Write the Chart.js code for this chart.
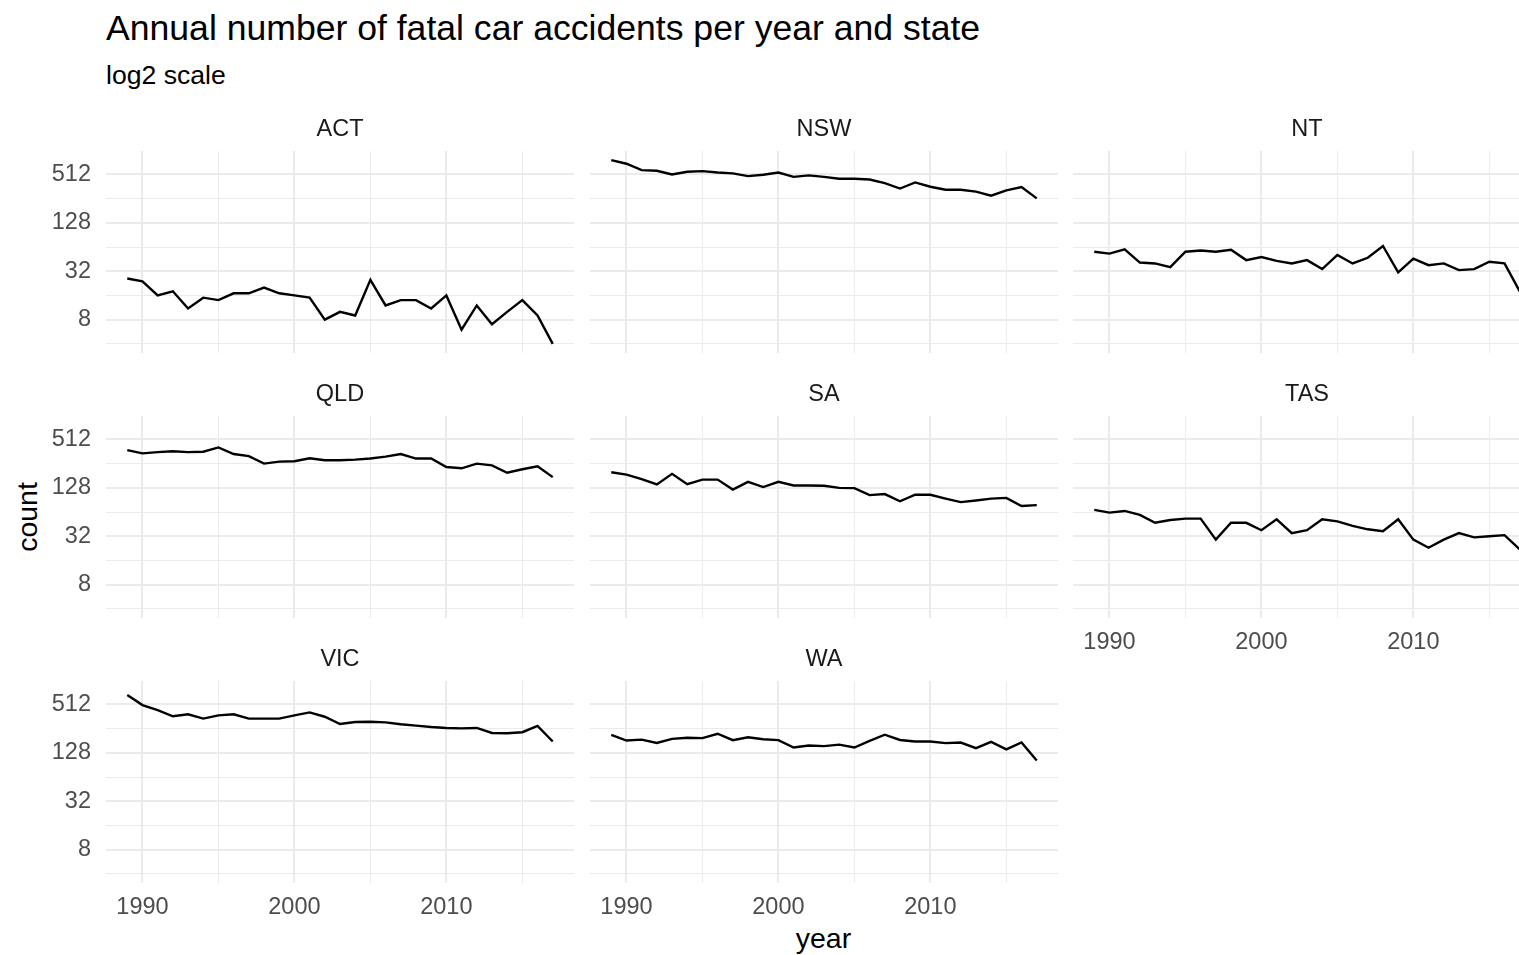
<!DOCTYPE html>
<html>
<head>
<meta charset="utf-8">
<title>Annual number of fatal car accidents per year and state</title>
<script src="https://cdn.jsdelivr.net/npm/chart.js@4.4.1/dist/chart.umd.min.js"></script>
<style>
  html, body { margin: 0; padding: 0; background: #fff; }
  #page { position: relative; width: 1519px; height: 955px; overflow: hidden;
          font-family: 'Liberation Sans', Arial, Helvetica, sans-serif; }
  #page canvas { position: absolute; }
  .txt { position: absolute; line-height: 1; white-space: nowrap; color: #000; }
</style>
</head>
<body>
<div id="page">
  <div class="txt" style="left:106px; top:29px; font-size:35.6px; transform:translateY(-50%);">Annual number of fatal car accidents per year and state</div>
  <div class="txt" style="left:106px; top:75px; font-size:26.6px; transform:translateY(-50%);">log2 scale</div>
  <div class="txt" style="left:26.5px; top:517px; font-size:28.5px; transform:translate(-50%,-50%) rotate(-90deg);">count</div>
  <div class="txt" style="left:823.5px; top:937.5px; font-size:28.5px; transform:translate(-50%,-50%);">year</div>
</div>
<script>
// data
const years = [1989, 1990, 1991, 1992, 1993, 1994, 1995, 1996, 1997, 1998,
               1999, 2000, 2001, 2002, 2003, 2004, 2005, 2006, 2007, 2008,
               2009, 2010, 2011, 2012, 2013, 2014, 2015, 2016, 2017];

const actCounts = [26, 24, 16, 18, 11, 15, 14, 17, 17, 20, 17, 16, 15, 8, 10,
                   9, 25, 12, 14, 14, 11, 16, 6, 12, 7, 10, 14, 9, 4];
const nswCounts = [770, 695, 580, 569, 512, 552, 563, 541, 527, 488, 507, 541, 478, 498, 478,
                   452, 452, 443, 399, 342, 407, 360, 330, 330, 313, 278, 324, 357, 258];
const ntCounts  = [56, 53, 60, 41, 40, 36, 56, 58, 56, 59, 44, 48, 43, 40, 44,
                   34, 51, 40, 47, 66, 31, 46, 38, 40, 33, 34, 42, 40, 18];
const qldCounts = [377, 343, 356, 365, 356, 360, 407, 337, 318, 256, 271, 274, 298, 282, 282,
                   287, 296, 313, 337, 296, 296, 232, 224, 256, 244, 197, 218, 237, 174];
const saCounts  = [200, 187, 164, 141, 191, 142, 162, 162, 122, 152, 131, 152, 137, 137, 136,
                   128, 127, 104, 107, 87, 105, 105, 94, 85, 89, 94, 96, 76, 78];
const tasCounts = [68, 63, 66, 59, 47, 51, 53, 53, 29, 47, 47, 38, 52, 35, 38,
                   52, 49, 43, 39, 37, 52, 29, 23, 29, 35, 31, 32, 33, 22];
const vicCounts = [673, 502, 436, 365, 386, 341, 374, 386, 341, 341, 341, 374, 407, 360, 292,
                   309, 312, 306, 290, 279, 268, 261, 258, 261, 226, 224, 231, 276, 177];
const waCounts  = [214, 182, 187, 170, 191, 197, 195, 221, 184, 200, 189, 184, 149, 158, 155,
                   162, 149, 180, 215, 185, 177, 177, 169, 172, 146, 175, 141, 172, 103];

const states = ['ACT', 'NSW', 'NT', 'QLD', 'SA', 'TAS', 'VIC', 'WA'];
const stateCounts = [actCounts, nswCounts, ntCounts, qldCounts, saCounts, tasCounts, vicCounts, waCounts];

const yTickLabels = [8, 32, 128, 512];
const yMinorTicks = [4, 16, 64, 256];
const xTickLabels = [1990, 2000, 2010];
const xMinorTicks = [1995, 2005, 2015];

// facet layout (pixels)
const colLeft = [106, 590, 1073];
const rowTop = [151, 416, 681];
const panelW = 468, panelH = 202;
const yAxisW = 106, stripH = 40, xAxisH = 50;
const gridColor = '#EBEBEB';
const tickColor = '#4D4D4D';

Chart.defaults.font.family = "'Liberation Sans', Arial, Helvetica, sans-serif";

// shared scale limits, ggplot style 5% expansion
const logs = stateCounts.flat().map(Math.log2);
const lo = Math.min(...logs), hi = Math.max(...logs);
const yMin = 2 ** (lo - (hi - lo) * 0.05);
const yMax = 2 ** (hi + (hi - lo) * 0.05);
const xSpan = years[years.length - 1] - years[0];
const xMin = years[0] - xSpan * 0.05;
const xMax = years[years.length - 1] + xSpan * 0.05;

const yGrid = yMinorTicks.concat(yTickLabels).sort((a, b) => a - b);
const xGrid = xMinorTicks.concat(xTickLabels).sort((a, b) => a - b);

const page = document.getElementById('page');

states.forEach((name, i) => {
  const col = i % 3, row = Math.floor(i / 3);
  const showY = col === 0;
  const showX = name === 'TAS' || name === 'VIC' || name === 'WA';

  const cv = document.createElement('canvas');
  cv.width = yAxisW + panelW;
  cv.height = stripH + panelH + xAxisH;
  cv.style.left = (colLeft[col] - yAxisW) + 'px';
  cv.style.top = (rowTop[row] - stripH) + 'px';
  page.appendChild(cv);

  new Chart(cv, {
    type: 'line',
    data: {
      datasets: [{
        label: name,
        data: years.map((yr, j) => ({ x: yr, y: stateCounts[i][j] })),
        borderColor: '#000',
        borderWidth: 2.4,
        pointRadius: 0,
        tension: 0,
        fill: false,
      }],
    },
    options: {
      responsive: false,
      animation: false,
      layout: { padding: 0 },
      plugins: {
        legend: { display: false },
        tooltip: { enabled: false },
        title: {
          display: true,
          text: name,
          fullSize: false,
          color: '#1A1A1A',
          font: { size: 23.5, weight: 'normal', lineHeight: 1.2 },
          padding: { top: 4.4, bottom: 7.4 },
        },
      },
      scales: {
        x: {
          type: 'linear',
          min: xMin,
          max: xMax,
          afterBuildTicks: (s) => { s.ticks = xGrid.map((v) => ({ value: v })); },
          afterFit: (s) => { s.height = xAxisH; },
          ticks: {
            display: showX,
            autoSkip: false,
            maxRotation: 0,
            padding: 10.5,
            color: tickColor,
            font: { size: 23.5 },
            callback: (v) => (xTickLabels.includes(v) ? String(v) : ''),
          },
          grid: {
            color: gridColor,
            drawTicks: false,
            lineWidth: (c) => (xTickLabels.includes(c.tick.value) ? 2 : 1),
          },
          border: { display: false },
        },
        y: {
          type: 'logarithmic',
          min: yMin,
          max: yMax,
          afterBuildTicks: (s) => { s.ticks = yGrid.map((v) => ({ value: v })); },
          afterFit: (s) => { s.width = yAxisW; },
          ticks: {
            display: showY,
            autoSkip: false,
            padding: 15,
            color: tickColor,
            font: { size: 23.5 },
            callback: (v) => (yTickLabels.includes(v) ? String(v) : ''),
          },
          grid: {
            color: gridColor,
            drawTicks: false,
            lineWidth: (c) => (yTickLabels.includes(c.tick.value) ? 2 : 1),
          },
          border: { display: false },
        },
      },
    },
  });
});
</script>
</body>
</html>
